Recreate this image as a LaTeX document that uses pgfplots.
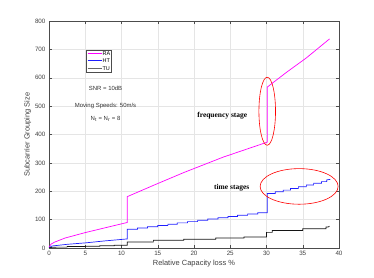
\documentclass[border=0pt]{standalone}
\usepackage{fontspec}
\setmainfont{Liberation Sans}
\newfontfamily\timesfont{Liberation Serif}
\usepackage{pgfplots}
\pgfplotsset{compat=1.18}
\definecolor{ra}{RGB}{255,0,255}
\definecolor{ht}{RGB}{30,30,255}
\definecolor{tu}{RGB}{20,20,20}
\newcommand{\legline}[1]{\textcolor{#1}{\rule[1.4pt]{14bp}{1.2pt}}}
\begin{document}
\begin{tikzpicture}
\useasboundingbox (-49bp,-30bp) rectangle (325bp,248bp);
\begin{axis}[
  at={(0,0)}, anchor=south west,
  scale only axis, width=290bp, height=227bp,
  xmin=0, xmax=40, ymin=0, ymax=800,
  xtick={0,5,...,40}, ytick={0,100,...,800},
  grid=major, major grid style={draw=black!10, line width=0.4pt},
  axis line style={draw=black!70, line width=0.5pt},
  tick style={draw=black!70, line width=0.4pt},
  tick align=inside, major tick length=3bp,
  xtick pos=both, ytick pos=both,
  ticklabel style={font=\fontsize{6.3}{7}\selectfont, text=black!75},
  /pgf/number format/assume math mode=true,
  xlabel={Relative Capacity loss \%}, ylabel={Subcarrier Grouping Size},
  label style={font=\fontsize{7.5}{9}\selectfont, text=black!75},
  xlabel style={yshift=3bp},
  ylabel style={yshift=-3bp},
]
\addplot[draw=ra, line width=0.7pt] coordinates {
(0,3) (0.3,14) (0.8,21) (2.2,35) (4.95,54) (7.7,71) (10.8,90)
(10.8,181) (14.7,224) (18.6,266) (24,320) (30.1,373)
(30.1,567) (32.7,618) (35.5,670) (38.7,737)};
\addplot[draw=ht, line width=0.7pt] coordinates {
(0,0) (0.4,7) (2.5,13) (5,18) (7.7,25) (10.8,32)
(10.8,66) (12.2,66) (12.2,70.5) (13.6,70.5) (13.6,75) (15.0,75) (15.0,79.5)
(16.4,79.5) (16.4,84) (17.7,84) (17.7,88.5) (19.1,88.5) (19.1,93) (20.5,93)
(20.5,97.5) (21.9,97.5) (21.9,102) (23.3,102) (23.3,106.5) (24.7,106.5)
(24.7,111) (26.0,111) (26.0,115.5) (27.4,115.5) (27.4,120) (28.8,120)
(28.8,124.5) (30.1,124.5)
(30.1,192) (31.2,192) (31.2,198) (32.3,198) (32.3,204) (33.3,204) (33.3,210)
(34.4,210) (34.4,216) (35.5,216) (35.5,222) (36.5,222) (36.5,228) (37.6,228)
(37.6,234) (38.3,234) (38.3,240) (38.8,242)};
\addplot[draw=tu, line width=0.7pt] coordinates {
(0,0) (0.3,2) (1,3) (2.5,3) (2.5,5) (5,5) (5,6) (7,6) (7,8) (9,8) (9,10) (10.8,10) (10.8,12)
(10.8,21) (14.4,21) (14.4,27) (18.6,27) (18.6,31) (23,31) (23,35) (26.9,35)
(26.9,39) (30.0,39) (30.0,55) (30.8,55) (30.8,62) (35,62) (35,68) (38.2,68)
(38.2,74) (38.5,74) (38.7,77)};
\node[anchor=north west, draw=black!70, fill=white, inner sep=1.5pt,
  font=\fontsize{5.5}{7.5}\selectfont, align=left] at (axis cs:5.1,698)
  {\legline{ra}\,RA\\ \legline{ht}\,HT\\ \legline{tu!65}\,TU};
\node[font=\fontsize{6}{7}\selectfont, text=black!80] at (axis cs:7.8,563) {SNR = 10dB};
\node[font=\fontsize{6}{7}\selectfont, text=black!80] at (axis cs:7.8,500) {Moving Speeds: 50m/s};
\node[font=\fontsize{6}{7}\selectfont, text=black!80] at (axis cs:7.8,454) {N$_{\mathrm t}$ = N$_{\mathrm r}$ = 8};
\node[font=\timesfont\bfseries\fontsize{7.5}{9}\selectfont] at (axis cs:23.9,468) {frequency stage};
\node[font=\timesfont\bfseries\fontsize{7.5}{9}\selectfont] at (axis cs:25.2,211) {time stages};
\draw[red, line width=0.6pt] (axis cs:30.1,482) ellipse [x radius=8.3bp, y radius=34bp];
\draw[red, line width=0.6pt] (axis cs:34.5,217) ellipse [x radius=39bp, y radius=17.8bp];
\end{axis}
\end{tikzpicture}
\end{document}
